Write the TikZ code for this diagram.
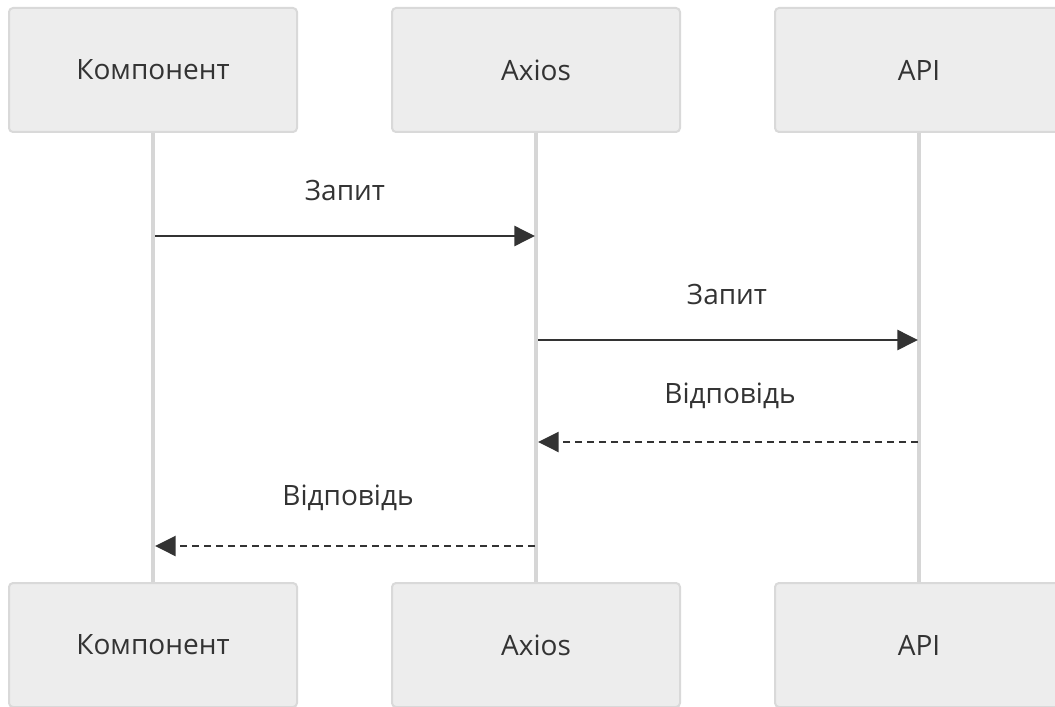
\documentclass[tikz,border=0pt]{standalone}
\usepackage{fontspec}
\setmainfont{Open Sans}
\usetikzlibrary{arrows.meta}
\definecolor{boxfill}{HTML}{EDEDED}
\definecolor{boxline}{HTML}{D9D9D9}
\definecolor{lifeline}{HTML}{D6D6D6}
\definecolor{ink}{HTML}{333333}
\tikzset{
  actor/.style={draw=boxline, line width=1.5pt, fill=boxfill, rounded corners=3pt,
    minimum width=216pt, minimum height=93pt, inner sep=0pt,
    font=\fontsize{21}{25}\selectfont, text=ink},
  life/.style={draw=lifeline, line width=2.8pt},
  msg/.style={draw=ink, line width=1.9pt, -{Triangle[length=15.5pt,width=15pt]}},
  reply/.style={msg, dash pattern=on 5pt off 4pt},
  lbl/.style={font=\fontsize{21}{25}\selectfont, text=ink}
}
\begin{document}
\begin{tikzpicture}[x=0.75pt,y=-0.75pt]
\useasboundingbox (0,0) rectangle (1055,706);
% participant heads
\node[actor] (ct) at (153,70) {Компонент};
\node[actor] (at) at (536,70) {Axios};
\node[actor] (pt) at (919,70) {API};
% participant feet
\node[actor] (cb) at (153,645) {Компонент};
\node[actor] (ab) at (536,645) {Axios};
\node[actor] (pb) at (919,645) {API};
% lifelines
\draw[life] (ct.south) -- (cb.north);
\draw[life] (at.south) -- (ab.north);
\draw[life] (pt.south) -- (pb.north);
% message anchors on the lifelines
\coordinate (c1) at (155,236);
\coordinate (a1) at (535,236);
\coordinate (a2) at (538,340);
\coordinate (p2) at (918,340);
\coordinate (p3) at (918,442);
\coordinate (a3) at (538,442);
\coordinate (a4) at (535,546);
\coordinate (c4) at (155,546);
% messages
\draw[msg] (c1) -- (a1);
\node[lbl] (l1) at (345,190) {Запит};
\draw[msg] (a2) -- (p2);
\node[lbl] (l2) at (727,294) {Запит};
\draw[reply] (p3) -- (a3);
\node[lbl] (l3) at (730,396) {Відповідь};
\draw[reply] (a4) -- (c4);
\node[lbl] (l4) at (348,498) {Відповідь};
\end{tikzpicture}
\end{document}
